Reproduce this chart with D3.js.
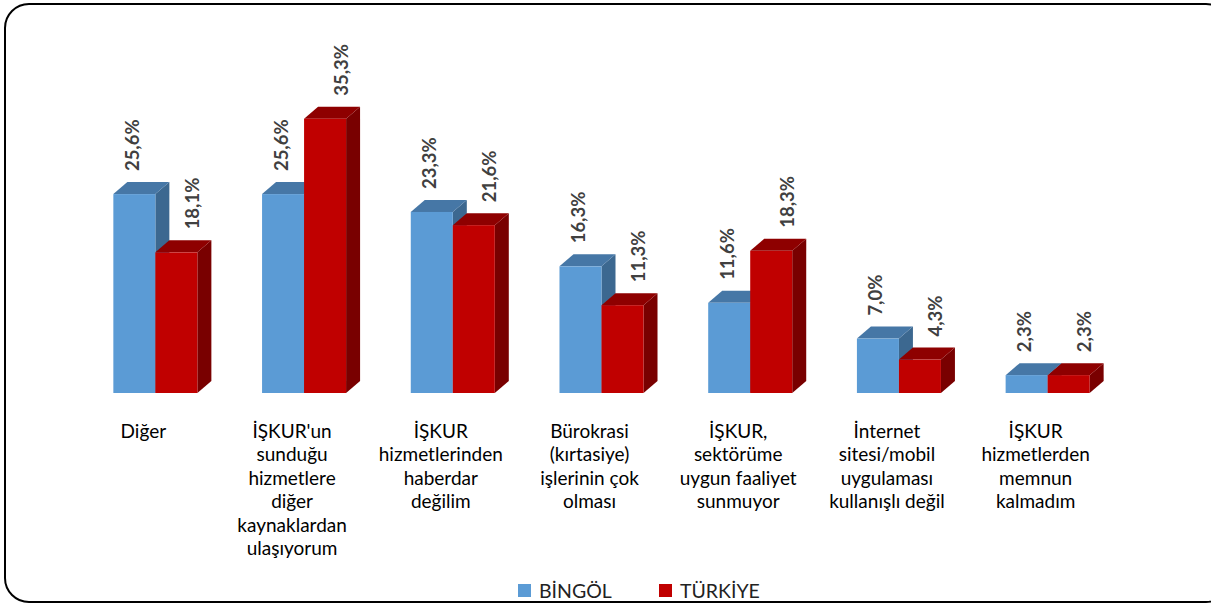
<!DOCTYPE html>
<html>
<head>
<meta charset="utf-8">
<script src="https://cdn.jsdelivr.net/npm/d3@7"></script>
<style>
  body { margin: 0; background: #fff; }
  svg { display: block; font-family: Lato, "Open Sans", "Liberation Sans", sans-serif; }
</style>
</head>
<body>
<div id="viz"></div>
<script>
// data
var categories = ["Diğer", "İŞKUR'un sunduğu", "İŞKUR hizmetlerinden", "Bürokrasi", "İŞKUR, sektörüme", "İnternet sitesi", "İŞKUR hizmetlerden"];
var categoryLines = [
  ["Diğer"],
  ["İŞKUR'un", "sunduğu", "hizmetlere", "diğer", "kaynaklardan", "ulaşıyorum"],
  ["İŞKUR", "hizmetlerinden", "haberdar", "değilim"],
  ["Bürokrasi", "(kırtasiye)", "işlerinin çok", "olması"],
  ["İŞKUR,", "sektörüme", "uygun faaliyet", "sunmuyor"],
  ["İnternet", "sitesi/mobil", "uygulaması", "kullanışlı değil"],
  ["İŞKUR", "hizmetlerden", "memnun", "kalmadım"]
];
var seriesNames = ["BİNGÖL", "TÜRKİYE"];
var bingol = [25.6, 25.6, 23.3, 16.3, 11.6, 7.0, 2.3];
var turkiye = [18.1, 35.3, 21.6, 11.3, 18.3, 4.3, 2.3];

var W = 1211, H = 603;
var baseY = 393, dx = 14, dy = 12;

var colors = [
  {front: "#5b9bd5", top: "#4677a6", side: "#3c6890", labelShift: -2},
  {front: "#c00000", top: "#8e0000", side: "#790000", labelShift: 16}
];

var svg = d3.select("#viz")
  .append("svg")
  .attr("width", W)
  .attr("height", H);

// frame
svg.append("rect")
  .attr("x", 5).attr("y", 4)
  .attr("width", 1225).attr("height", 598)
  .attr("rx", 24).attr("ry", 24)
  .attr("fill", "#fff")
  .attr("stroke", "#000")
  .attr("stroke-width", 2);

var x0 = d3.scaleBand()
  .domain(categories)
  .range([81, 1122])
  .paddingInner(0.435)
  .paddingOuter(0.2175);

var x1 = d3.scaleBand()
  .domain(seriesNames)
  .range([0, x0.bandwidth()])
  .padding(0);

var y = d3.scaleLinear()
  .domain([0, 40])
  .range([baseY, baseY - 40 * 7.77]);

var rows = [];
categories.forEach(function(c, i) {
  rows.push({cat: c, s: 0, value: bingol[i]});
  rows.push({cat: c, s: 1, value: turkiye[i]});
});

var bars = svg.append("g");
rows.forEach(function(d) {
  var bx = x0(d.cat) + x1(seriesNames[d.s]);
  var bw = x1.bandwidth();
  var top = y(d.value);
  var col = colors[d.s];
  var g = bars.append("g");
  // side face
  g.append("path")
    .attr("d", "M" + (bx + bw) + "," + top + " L" + (bx + bw + dx) + "," + (top - dy) +
      " L" + (bx + bw + dx) + "," + (baseY - dy) + " L" + (bx + bw) + "," + baseY + "Z")
    .attr("fill", col.side);
  // top face
  g.append("path")
    .attr("d", "M" + bx + "," + top + " L" + (bx + dx) + "," + (top - dy) +
      " L" + (bx + bw + dx) + "," + (top - dy) + " L" + (bx + bw) + "," + top + "Z")
    .attr("fill", col.top);
  // front face
  g.append("rect")
    .attr("x", bx).attr("y", top)
    .attr("width", bw).attr("height", baseY - top)
    .attr("fill", col.front);
});

// value labels
svg.append("g").selectAll("text")
  .data(rows)
  .join("text")
  .attr("transform", function(d) {
    var cx = x0(d.cat) + x1(seriesNames[d.s]) + x1.bandwidth() / 2 + colors[d.s].labelShift;
    var ty = y(d.value) - dy - 11;
    return "translate(" + cx + "," + ty + ") rotate(-90)";
  })
  .attr("dy", "0.35em")
  .attr("text-anchor", "start")
  .attr("font-size", 18.5)
  .attr("font-weight", "bold")
  .attr("fill", "#404040")
  .text(function(d) { return d.value.toFixed(1).replace(".", ",") + "%"; });

// category labels
var catG = svg.append("g");
categories.forEach(function(c, i) {
  var cx = x0(c) + x0.bandwidth() / 2 - 12;
  var t = catG.append("text")
    .attr("x", cx)
    .attr("y", 438)
    .attr("text-anchor", "middle")
    .attr("font-size", 19)
    .attr("fill", "#000");
  categoryLines[i].forEach(function(line, j) {
    t.append("tspan")
      .attr("x", cx)
      .attr("dy", j === 0 ? 0 : 23.4)
      .text(line);
  });
});

// legend
var legendX = [518, 659];
var legend = svg.append("g");
seriesNames.forEach(function(n, i) {
  legend.append("rect")
    .attr("x", legendX[i]).attr("y", 584)
    .attr("width", 13).attr("height", 13)
    .attr("fill", colors[i].front);
  legend.append("text")
    .attr("x", legendX[i] + 21).attr("y", 598)
    .attr("font-size", 19.5)
    .attr("fill", "#222")
    .text(n);
});
</script>
</body>
</html>
